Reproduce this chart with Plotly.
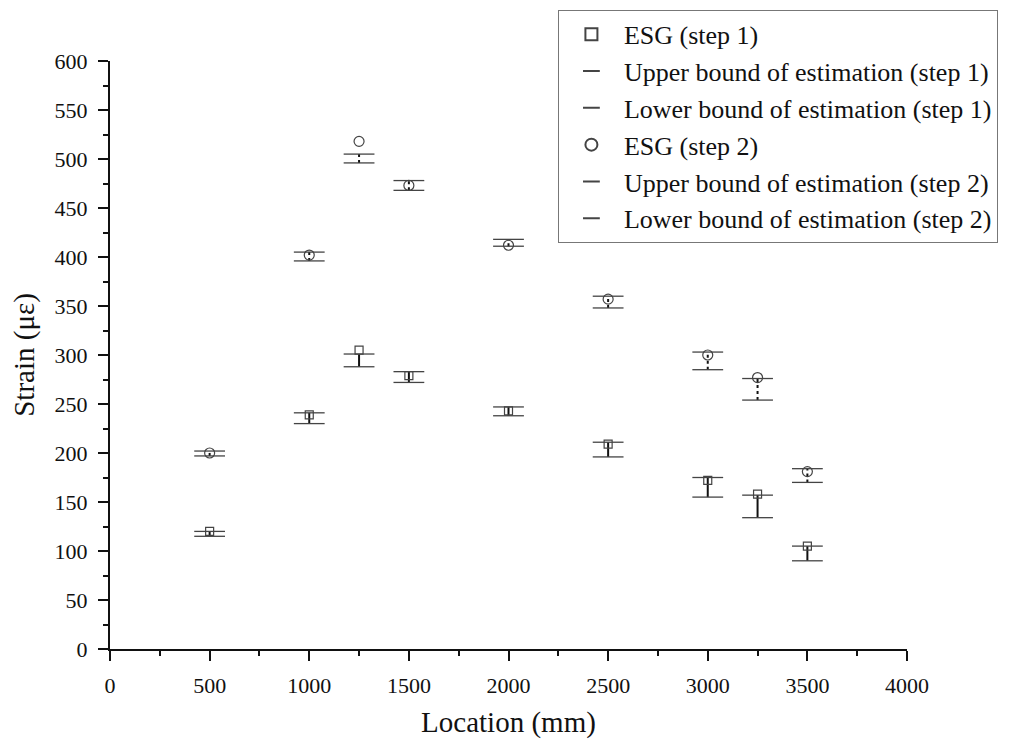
import plotly.graph_objects as go

# ── Data ─────────────────────────────────────────────────────────────────────
LOCATION = [500, 1000, 1250, 1500, 2000, 2500, 3000, 3250, 3500]

ESG_STEP1 = [120, 239, 305, 279, 243, 209, 172, 158, 105]
UPPER_STEP1 = [120, 241, 301, 283, 247, 211, 175, 157, 105]
LOWER_STEP1 = [115, 230, 288, 272, 238, 196, 155, 134, 90]

ESG_STEP2 = [200, 402, 518, 473, 412, 357, 300, 277, 181]
UPPER_STEP2 = [202, 405, 505, 478, 418, 360, 303, 276, 184]
LOWER_STEP2 = [197, 396, 496, 468, 411, 348, 285, 254, 170]

FONT = "Liberation Serif, Times New Roman, serif"
INK = "#111111"
CAP = "#444444"


def segments(xs, lo, hi):
    # vertical bound segments separated by gaps
    sx, sy = [], []
    for x, a, b in zip(xs, lo, hi):
        sx += [x, x, None]
        sy += [a, b, None]
    return sx, sy


fig = go.Figure()

# vertical bars between lower and upper bounds
for lo, hi, dash in [(LOWER_STEP1, UPPER_STEP1, "solid"),
                     (LOWER_STEP2, UPPER_STEP2, "dot")]:
    sx, sy = segments(LOCATION, lo, hi)
    fig.add_trace(go.Scatter(
        x=sx, y=sy, mode="lines", showlegend=False, hoverinfo="skip",
        line=dict(color=INK, width=2, dash=dash),
    ))

cap_marker = dict(symbol="line-ew", size=22, line=dict(color=CAP, width=1.3))

fig.add_trace(go.Scatter(
    x=LOCATION, y=ESG_STEP1, mode="markers", name="ESG (step 1)",
    marker=dict(symbol="square-open", size=8, color=CAP, line=dict(width=1.2)),
))
fig.add_trace(go.Scatter(
    x=LOCATION, y=UPPER_STEP1, mode="markers",
    name="Upper bound of estimation (step 1)", marker=cap_marker,
))
fig.add_trace(go.Scatter(
    x=LOCATION, y=LOWER_STEP1, mode="markers",
    name="Lower bound of estimation (step 1)", marker=cap_marker,
))
fig.add_trace(go.Scatter(
    x=LOCATION, y=ESG_STEP2, mode="markers", name="ESG (step 2)",
    marker=dict(symbol="circle-open", size=10, color=CAP, line=dict(width=1.2)),
))
fig.add_trace(go.Scatter(
    x=LOCATION, y=UPPER_STEP2, mode="markers",
    name="Upper bound of estimation (step 2)", marker=cap_marker,
))
fig.add_trace(go.Scatter(
    x=LOCATION, y=LOWER_STEP2, mode="markers",
    name="Lower bound of estimation (step 2)", marker=cap_marker,
))

axis_common = dict(
    showgrid=False, zeroline=False, showline=True,
    linecolor=INK, linewidth=2,
    ticks="outside", ticklen=10, tickwidth=2, tickcolor=INK,
    tickfont=dict(family=FONT, size=22, color=INK),
    ticklabelstandoff=6,
)

fig.update_xaxes(
    **axis_common, range=[0, 4000], dtick=500,
    minor=dict(ticks="outside", ticklen=5, tickwidth=2, tickcolor=INK, dtick=250),
    title=dict(text="Location (mm)", font=dict(family=FONT, size=29, color=INK),
               standoff=14),
)
fig.update_yaxes(
    **axis_common, range=[0, 600], dtick=50,
    minor=dict(ticks="outside", ticklen=5, tickwidth=2, tickcolor=INK, dtick=25),
    title=dict(text="Strain (με)", font=dict(family=FONT, size=29, color=INK),
               standoff=14),
)

fig.update_layout(
    width=1024, height=752,
    margin=dict(l=102, r=125, t=53, b=111, autoexpand=False),
    plot_bgcolor="white", paper_bgcolor="white",
    font=dict(family=FONT, color=INK),
    legend=dict(
        x=0.562, y=1.087, xanchor="left", yanchor="top",
        bgcolor="white", bordercolor="#777777", borderwidth=1,
        font=dict(family=FONT, size=26, color=INK),
        tracegroupgap=0, itemsizing="constant", itemwidth=55,
    ),
)

fig.write_html("out.html")
